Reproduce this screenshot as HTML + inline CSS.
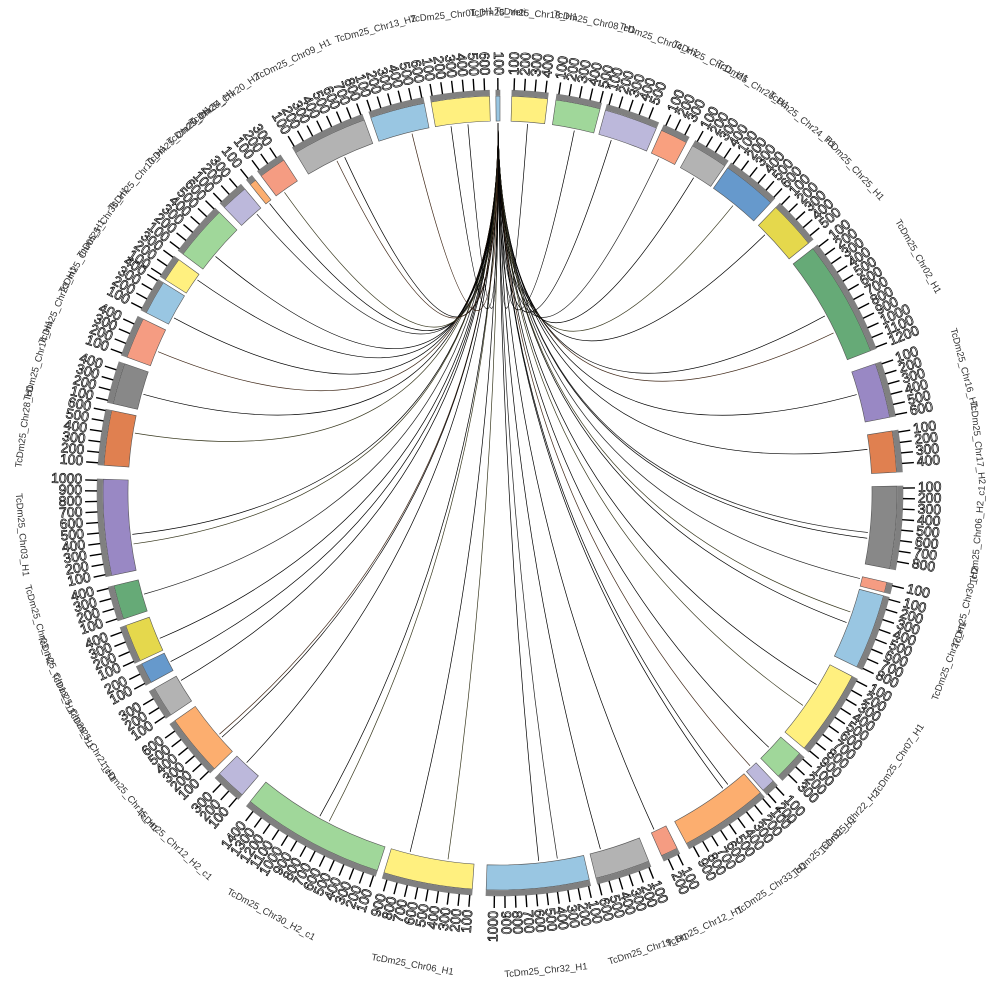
<!DOCTYPE html>
<html><head><meta charset="utf-8"><style>
html,body{margin:0;padding:0;background:#fff;width:1000px;height:1000px;overflow:hidden}
svg{display:block}
</style></head><body>
<svg id="s" width="1000" height="1000" xmlns="http://www.w3.org/2000/svg"></svg>
<script>
var cx=500,cy=493,R1=372,R2=397;
var segs=[
[1.7,6.9,"#fff07f","Chr18_H1"],[8.1,14.6,"#a0d79a","Chr08_H1"],[15.4,23.2,"#bcb8db","Chr04_H1"],
[24,28,"#f9a07f","Chr11_H1"],[29,34.5,"#b3b3b3","Chr26_H1"],[35,43,"#6699cc","Chr24_H1"],
[44,51,"#e5d84c","Chr25_H1"],[52,69,"#66aa77","Chr02_H1"],[71,79,"#9988c4","Chr16_H1"],
[81,87,"#e08050","Chr17_H2"],[89,101,"#888888","Chr06_H2_c1"],[103,104.5,"#f59c82","Chr30_H2"],
[105,116,"#99c6e2","Chr27_H1"],[117.5,130,"#fff07f","Chr07_H1"],[131,135.5,"#a0d79a","Chr22_H2"],
[136.5,138.5,"#bcb8db","Chr31_H1"],[139,152,"#fcae6f","Chr33_H1"],[153.5,156,"#f59c82","Chr12_H1"],
[158,166,"#b3b3b3","Chr19_H1"],[167,182,"#99c6e2","Chr32_H1"],[184,197,"#fff07f","Chr06_H1"],
[198,219,"#a0d79a","Chr30_H2_c1"],[220.5,225,"#bcb8db","Chr12_H2_c1"],[226,235,"#fcae6f","Chr15_H1"],
[236,240.5,"#b3b3b3","Chr21_H1"],[241.5,244.5,"#6699cc","Chr29_H1"],[245,250.5,"#e5d84c","Chr13_H1"],
[251.5,256.5,"#66aa77","Chr03_H2"],[258,272,"#9988c4","Chr03_H1"],[274,282,"#e08050","Chr28_H1"],
[283,289,"#888888","Chr14_H1"],[290,296,"#f59c82","Chr23_H1"],[297,302,"#99c6e2","Chr05_H1"],
[302.5,306,"#fff07f","Chr35_H1"],[307,315,"#a0d79a","Chr10_H1"],[316,320,"#bcb8db","Chr20_H1"],
[321,322,"#fcae6f","Chr34_H1"],[323,327,"#f59c82","Chr20_H2"],[329,340,"#b3b3b3","Chr09_H1"],
[341,349,"#99c6e2","Chr13_H2"],[350,358.5,"#fff07f","Chr01_H1"],[359.4,360,"#99c6e2","Yeti"]];
function P(a,r){var t=a*Math.PI/180;return [cx+r*Math.sin(t),cy-r*Math.cos(t)];}
var h=[];
function arc(a1,a2,r1,r2,fill,st){var p1=P(a1,r2),p2=P(a2,r2),p3=P(a2,r1),p4=P(a1,r1);var l=(a2-a1)>180?1:0;
return '<path d="M'+p1+' A'+r2+','+r2+' 0 '+l+' 1 '+p2+' L'+p3+' A'+r1+','+r1+' 0 '+l+' 0 '+p4+'Z" fill="'+fill+'" stroke="'+st+'" stroke-width="0.6"/>';}
var seed=7;function rnd(){seed=(seed*9301+49297)%233280;return seed/233280;}
var lc=["#000","#000","#000","#222","#000","#3a3a20","#000","#402818"];
segs.forEach(function(s,i){if(i==segs.length-1)return;var n=(s[1]-s[0])>8?2:1;
for(var k=0;k<n;k++){var a=s[0]+(s[1]-s[0])*(0.2+0.6*rnd());var p=P(a,R1-2);var t2=P(359.7,R1-2);
h.push('<path d="M'+p+' Q'+cx+','+cy+' '+t2+'" fill="none" stroke="'+lc[(i+k)%lc.length]+'" stroke-width="0.7"/>');}});
segs.forEach(function(s){
h.push(arc(s[0],s[1],R1,R2,s[2],"#555"));
h.push(arc(s[0],s[1],R2+0.5,R2+6,"#808080","#808080"));
var n=0;for(var a=s[0]+0.3;a<=s[1];a+=1.5){n++;var q1=P(a,R2+6),q2=P(a,R2+18);
h.push('<line x1="'+q1[0]+'" y1="'+q1[1]+'" x2="'+q2[0]+'" y2="'+q2[1]+'" stroke="#000" stroke-width="1.4"/>');
var q=P(a,R2+21);var rot,anc;if(a<180){rot=a-90;anc="start";}else{rot=a+90;anc="end";}
h.push('<text x="'+q[0]+'" y="'+q[1]+'" transform="rotate('+rot+' '+q[0]+' '+q[1]+')" text-anchor="'+anc+'" dominant-baseline="middle" font-family="Liberation Sans" font-size="14" fill="#fff" stroke="#000" stroke-width="0.7">'+(n*100)+'</text>');}
var m=(s[0]+s[1])/2,q=P(m,480);var rr=(m>90&&m<270)?m+180:m;
h.push('<text x="'+q[0]+'" y="'+q[1]+'" transform="rotate('+rr+' '+q[0]+' '+q[1]+')" text-anchor="middle" dominant-baseline="middle" font-family="Liberation Sans" font-size="9.5" fill="#333">TcDm25_'+s[3]+'</text>');
});
document.getElementById("s").innerHTML=h.join("");
</script>
</body></html>
